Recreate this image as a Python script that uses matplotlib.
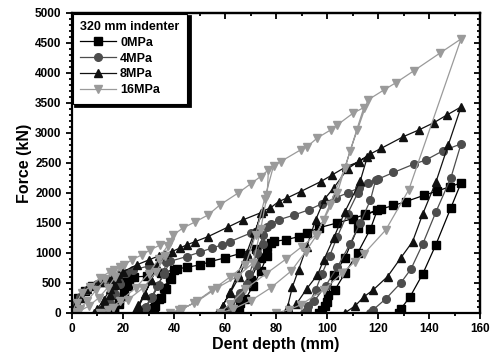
import numpy as np
import matplotlib.pyplot as plt
from matplotlib.ticker import MultipleLocator

plt.rcParams['font.family'] = ['Liberation Sans', 'DejaVu Sans']
plt.rcParams['font.weight'] = 'bold'

# 0 MPa : load / unload / reload cycles, in drawing order
d0 = [0, 1, 2.5, 5, 8, 12, 16, 20, 23,
      22, 20.5, 18.5, 16.5, 15,
      16.5, 18.5, 20.5, 22.5, 24.5,
      29.4, 35, 40,
      39, 37, 35, 32.5, 30,
      32, 34, 36, 38.5, 41,
      45, 50.3, 54.2, 60, 66, 72, 78,
      76.5, 74, 71, 68, 65.5, 64,
      66, 70, 73.9, 76.5, 79,
      84, 89, 92.2, 96.7, 104, 110, 115, 119.7,
      117, 112, 107, 103, 100, 98, 97,
      99, 100.5, 102.6, 107, 112, 115, 121,
      126, 130.9, 138, 143, 148, 152.5,
      148.5, 142.6, 137.5, 132.5, 128.9, 128]
f0 = [0, 120, 250, 370, 450, 510, 550, 575, 590,
      450, 280, 140, 50, 0,
      80, 220, 380, 520, 600,
      610, 665, 717,
      560, 400, 250, 110, 0,
      80, 230, 420, 600, 730,
      760, 800, 855, 917, 990, 1070, 1167,
      950, 700, 450, 230, 60, 0,
      160, 550, 917, 1100, 1190,
      1220, 1272, 1333, 1417, 1500, 1570, 1640, 1717,
      1400, 1000, 660, 380, 180, 50, 0,
      120, 300, 633, 917, 1417, 1633, 1730,
      1790, 1855, 1960, 2030, 2100, 2167,
      1750, 1133, 650, 267, 67, 0]

# 4 MPa
d4 = [0, 1.5, 3, 6, 10, 13, 16, 20,
      19, 17, 15, 12.5, 10.5,
      12, 14, 16, 18.5, 21,
      24, 30, 37,
      36, 34, 31.5, 29, 27,
      28.5, 31, 33.5, 36, 38.5,
      45, 50, 55, 58.8, 62, 70, 76.5,
      75, 72, 68.5, 65, 62, 60.5,
      62.5, 66, 69.5, 72.5, 75, 78,
      81, 87, 92.8, 98, 103.4, 108, 112.5, 119,
      117, 113, 109, 104, 99.4, 95, 92, 91,
      92.5, 95.5, 98, 101, 104, 108, 112, 116, 120,
      126, 133.9, 138.8, 145.3, 152.5,
      148.5, 142.7, 137.5, 132.9, 128.9, 123, 118, 117]
f4 = [0, 150, 260, 380, 480, 550, 605, 660,
      480, 320, 170, 60, 0,
      60, 190, 340, 520, 670,
      717, 780, 855,
      680, 470, 260, 100, 0,
      80, 250, 450, 650, 860,
      939, 1010, 1083, 1133, 1188, 1330, 1438,
      1150, 800, 480, 240, 70, 0,
      90, 330, 650, 1000, 1300, 1480,
      1550, 1630, 1717, 1820, 1917, 2000, 2083, 2210,
      1883, 1500, 1150, 760, 450, 200, 50, 0,
      120, 380, 650, 950, 1272, 1650, 2000, 2170, 2230,
      2340, 2478, 2550, 2700, 2817,
      2250, 1688, 1150, 733, 500, 233, 50, 0]

# 8 MPa
d8 = [0, 1.5, 3, 6, 11, 15, 18,
      17, 15, 12.5, 10, 8.5,
      10, 12.5, 15, 17.5, 20.1,
      25.4, 30, 34,
      33, 31, 28.5, 26, 24.5,
      26, 28.5, 31, 33.5, 36,
      39.2, 42.4, 45, 48.3, 53.4, 61.3, 67, 73.9,
      72, 69, 65.5, 62, 59, 57,
      59, 62, 65, 68.5, 71.5, 75,
      77.8, 81, 84.4, 89.6, 97.5, 102, 107.3, 112.5, 115.8,
      113, 107, 102.6, 98.7, 96.2, 92, 88, 85,
      84.5, 86.4, 88.8, 92, 95.5, 99, 102.6, 108, 112.5, 117,
      121.3, 129.9, 136, 141.9, 147, 152.5,
      147.5, 142.7, 137.5, 133.5, 128.9, 123.7, 118, 114.4, 111, 107]
f8 = [0, 150, 250, 400, 522, 600, 650,
      470, 300, 150, 50, 0,
      70, 220, 400, 580, 688,
      800, 880, 950,
      760, 540, 320, 130, 0,
      90, 300, 540, 780, 980,
      1022, 1083, 1133, 1188, 1272, 1433, 1550, 1667,
      1350, 950, 600, 330, 120, 0,
      110, 350, 650, 1000, 1350, 1700,
      1750, 1855, 1917, 2022, 2188, 2300, 2433, 2520, 2605,
      2200, 1688, 1250, 883, 633, 400, 150, 0,
      100, 433, 717, 1100, 1550, 1900, 2083, 2400, 2530, 2650,
      2745, 2938, 3050, 3172, 3300, 3433,
      2800, 2188, 1650, 1188, 917, 605, 380, 267, 117, 0]

# 16 MPa
d16 = [0, 1.8, 3.8, 7.1, 11, 14.9, 18.9,
       17, 14, 10.5, 6.5, 2.5, 1,
       3, 6, 9.5, 13, 16.5, 20.5,
       23.4, 27.4, 30.7, 34.6, 38.5,
       36.5, 33, 28, 22, 16, 11,
       14, 19, 25, 30, 34, 37.5, 39.7,
       43.6, 48.3, 53.4, 58, 65.2, 70, 73.9, 77,
       76.5, 74, 71, 64.7, 56.9, 49, 43, 38.5,
       42, 48, 55, 62, 68, 72, 75.5, 79,
       81.8, 89.6, 92.2, 96.2, 101.4, 104, 110.3, 114.4,
       111.6, 107, 101, 96, 91.6, 86, 78, 70, 63, 58,
       62, 68, 76, 84, 90, 95.5, 98.7, 104, 109, 116,
       122.3, 127, 133.9, 144.3, 152.5,
       132, 123, 114.4, 111, 106, 98.7, 89.6, 85, 80]
f16 = [0, 167, 333, 439, 583, 688, 772,
       600, 420, 250, 110, 20, 0,
       60, 200, 380, 560, 720, 800,
       883, 967, 1050, 1133, 1188,
       950, 680, 420, 220, 80, 0,
       50, 200, 420, 650, 900, 1120, 1300,
       1417, 1517, 1633, 1800, 2000, 2150, 2272, 2383,
       1967, 1400, 833, 605, 417, 190, 60, 0,
       40, 170, 380, 600, 800, 1300, 1900, 2450,
       2522, 2717, 2772, 2917, 3050, 3133, 3333, 3422,
       3050, 2417, 1800, 1300, 1022, 700, 420, 200, 60, 0,
       150, 400, 650, 900, 1100, 1300, 1550, 2000, 2700, 3550,
       3717, 3838, 4033, 4333, 4567,
       2050, 1383, 983, 855, 667, 383, 133, 50, 0]

labels = ['0MPa', '4MPa', '8MPa', '16MPa']
styles = [('#000000', 's'), ('#4d4d4d', 'o'), ('#111111', '^'), ('#9a9a9a', 'v')]

fig = plt.figure(figsize=(4.93, 3.6), dpi=100)
ax = fig.add_axes([0.146, 0.131, 0.828, 0.833])

for (d, f), lab, (c, m) in zip([(d0, f0), (d4, f4), (d8, f8), (d16, f16)], labels, styles):
    ax.plot(d, f, color=c, marker=m, markersize=5.5, linewidth=0.9, label=lab)

ax.set_xlim(0, 160)
ax.set_ylim(0, 5000)
ax.xaxis.set_major_locator(MultipleLocator(20))
ax.xaxis.set_minor_locator(MultipleLocator(10))
ax.yaxis.set_major_locator(MultipleLocator(500))
ax.yaxis.set_minor_locator(MultipleLocator(100))
ax.tick_params(which='both', direction='out', labelsize=8.5, width=1.3)
ax.tick_params(which='major', length=4)
ax.tick_params(which='minor', length=2)
for lbl in ax.get_xticklabels() + ax.get_yticklabels():
    lbl.set_fontweight('bold')

top = ax.secondary_xaxis('top')
top.xaxis.set_major_locator(MultipleLocator(20))
top.xaxis.set_minor_locator(MultipleLocator(10))
top.tick_params(which='both', direction='in', labeltop=False, width=1.3)
top.tick_params(which='major', length=4)
top.tick_params(which='minor', length=2)
right = ax.secondary_yaxis('right')
right.yaxis.set_major_locator(MultipleLocator(500))
right.yaxis.set_minor_locator(MultipleLocator(100))
right.tick_params(which='both', direction='in', labelright=False, width=1.3)
right.tick_params(which='major', length=4)
right.tick_params(which='minor', length=2)

for sp in list(ax.spines.values()) + [top.spines['top'], right.spines['right']]:
    sp.set_linewidth(1.6)

ax.set_xlabel('Dent depth (mm)', fontsize=11.5, fontweight='bold', labelpad=1)
ax.set_ylabel('Force (kN)', fontsize=11.5, fontweight='bold', labelpad=2)

leg = ax.legend(loc='upper left', title='320 mm indenter', alignment='left',
                fontsize=9, title_fontproperties={'weight': 'bold', 'size': 9},
                frameon=True, fancybox=False,
                shadow={'color': 'black', 'alpha': 1, 'linewidth': 2},
                borderaxespad=0.05, handlelength=2.9, handletextpad=0.3,
                labelspacing=0.3, borderpad=0.6)
leg.get_frame().set_edgecolor('black')
leg.get_frame().set_linewidth(0.8)
for t in leg.get_texts():
    t.set_fontweight('bold')

fig.savefig('out.png', dpi=100)
